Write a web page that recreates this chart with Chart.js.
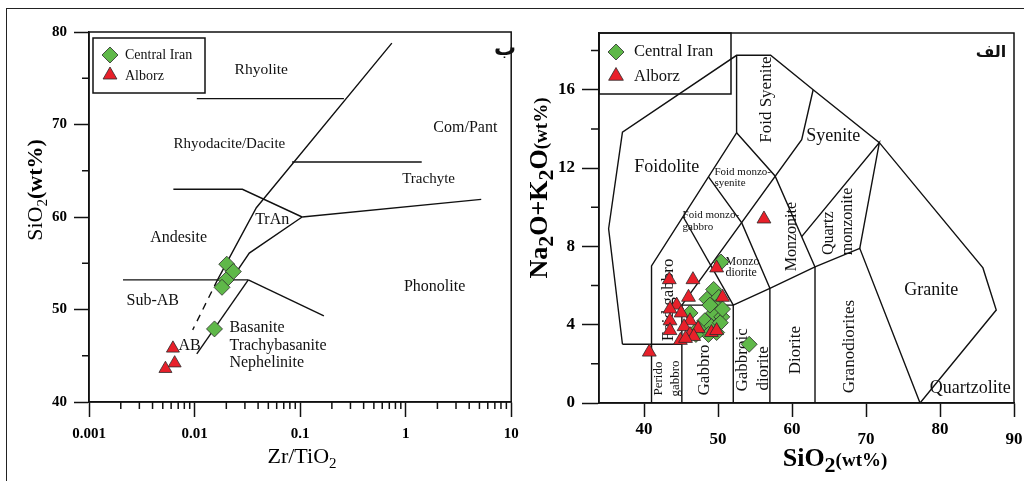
<!DOCTYPE html>
<html><head><meta charset="utf-8">
<script src="https://cdn.jsdelivr.net/npm/chart.js@4"></script>
<style>
html,body{margin:0;padding:0;background:#fff;}
body{width:1024px;height:481px;overflow:hidden;position:relative;}
.wrap{position:absolute;top:0;}
#fTop{position:absolute;left:7px;top:8px;width:1017px;height:0;border-top:1.5px solid #222;}
#fLeft{position:absolute;left:6px;top:8px;width:0;height:473px;border-left:1.5px solid #222;}
</style></head>
<body>
<div class="wrap" style="left:0;width:520px;height:481px"><canvas id="left" width="520" height="481"></canvas></div>
<div class="wrap" style="left:520px;width:504px;height:481px"><canvas id="right" width="504" height="481"></canvas></div>
<div id="fTop"></div><div id="fLeft"></div>
<script>
// ================= LEFT PANEL: Zr/TiO2 vs SiO2 =================
const zrMajorTicks = [0.001, 0.01, 0.1, 1, 10];
const zrTickLabels = ['0.001', '0.01', '0.1', '1', '10'];
const zrMinorTicks = [0.002,0.003,0.004,0.005,0.006,0.007,0.008,0.009,
                      0.02,0.03,0.04,0.05,0.06,0.07,0.08,0.09,
                      0.2,0.3,0.4,0.5,0.6,0.7,0.8,0.9,
                      2,3,4,5,6,7,8,9];
const siMajorTicks = [40, 50, 60, 70, 80];
const siTickLabels = ['40', '50', '60', '70', '80'];
const siMinorTicks = [45, 55, 65, 75];

// samples
const ciZr = [0.0202, 0.0233, 0.0199, 0.0182, 0.01545];
const ciSi = [54.9, 54.1, 53.2, 52.4, 47.9];
const alZr = [0.00624, 0.00648, 0.0053];
const alSi = [45.8, 44.2, 43.6];

// field boundaries [Zr/TiO2, SiO2]
const wfMain      = [[0.74,78.8],[0.0385,61.0],[0.0165,53.2]];
const wfDash      = [[0.0165,53.2],[0.0096,47.8]];
const wfRhyolite  = [[0.0105,72.8],[0.26,72.8]];
const wfTrachyte  = [[0.084,65.95],[1.42,65.95]];
const wfAndesite  = [[0.0063,63.0],[0.0284,63.0],[0.1045,60.0]];
const wfPhonolite = [[0.1045,60.0],[5.2,61.9]];
const wfTrAn      = [[0.1045,60.0],[0.033,56.1],[0.0222,53.2]];
const wfSubAB     = [[0.0021,53.2],[0.0323,53.2]];
const wfBasanite  = [[0.0323,53.2],[0.168,49.3]];
const wfAB        = [[0.0323,53.2],[0.0105,45.2]];

// field names
const wfNames  = ['Rhyolite','Rhyodacite/Dacite','Com/Pant','Trachyte','TrAn','Andesite','Sub-AB','Phonolite','AB','Basanite','Trachybasanite','Nephelinite'];
const wfNameX  = [0.0429, 0.0214, 3.68, 1.65, 0.0544, 0.00706, 0.00402, 1.88, 0.00897, 0.0214, 0.0214, 0.0214];
const wfNameY  = [75.9, 67.9, 69.6, 64.1, 59.7, 57.8, 50.9, 52.5, 46.05, 48.0, 46.05, 44.2];
const wfNameAlign = ['center','center','center','center','center','center','center','center','center','left','left','left'];

// ================= RIGHT PANEL: TAS =================
const tasXTicks = [40, 50, 60, 70, 80, 90];
const tasXLabels = ['40', '50', '60', '70', '80', '90'];
const tasYTicks = [0, 4, 8, 12, 16];
const tasYLabels = ['0', '4', '8', '12', '16'];
const tasYMinor = [2, 6, 10, 14, 18];

const ciSiO2 = [50.4,49.4,48.5,50.1,49.8,46.2,48.2,49.4,50.5,49.1,50.3,48.7,47.3,49.8,47.0,50.6,54.2,48.9];
const ciAlk  = [7.2, 5.8, 5.3, 5.4, 4.9, 4.6, 4.2, 4.6, 4.4, 3.9, 4.1, 3.5, 3.8, 3.6, 3.5, 4.8, 3.0, 5.0];
const alSiO2 = [40.7,43.4,46.6,49.8,50.6,46.0,44.4,45.0,43.5,43.5,46.2,47.3,43.5,45.4,46.2,44.9,49.1,49.8,46.7,56.2,45.6];
const alAlk  = [2.6, 6.3, 6.3, 6.9, 5.4, 5.4, 5.0, 4.6, 4.8, 4.2, 4.2, 3.8, 3.7, 3.9, 3.5, 3.2, 3.6, 3.7, 3.4, 9.4, 3.3];

const tasOuter      = [[37.07,3.0],[35.2,8.9],[37.07,13.84],[52.5,17.76],[57.1,17.76],[62.85,16.0],[71.8,13.3],[85.8,6.9],[87.6,4.75],[77.3,0]];
const tasFoidBase   = [[37.07,3.0],[45.1,3.0]];
const tasFoidInner  = [[41.0,0],[41.0,7.0],[52.5,13.8],[52.5,17.76]];
const tasGabbro     = [[45.1,0],[45.1,5.0],[52.05,5.0],[52.05,0]];
const tasMonzo      = [[45.1,5.0],[61.3,13.45],[62.85,16.0]];
const tasFMGabbro   = [[45.3,9.5],[52.05,5.0]];
const tasFMSyenite  = [[48.7,11.55],[53.2,9.2],[57.0,5.86]];
const tasMonzonite  = [[52.5,13.8],[57.7,11.6],[63.1,6.95]];
const tasDioriteTop = [[52.05,5.0],[57.0,5.86],[63.1,6.95],[69.15,7.9],[77.3,0]];
const tasV57        = [[57.0,5.86],[57.0,0]];
const tasV63        = [[63.1,6.95],[63.1,0]];
const tasQzMonz     = [[61.3,8.5],[71.8,13.3],[69.15,7.9]];

const tasNames = ['Foidolite','Foid Syenite','Syenite','Foid monzo-','syenite','Foid monzo-','gabbro','Monzonite','Quartz','monzonite','Monzo','diorite','Foid gabbro','Perido','gabbro','Gabbro','Gabbroic','diorite','Diorite','Granodiorites','Granite','Quartzolite'];
const tasNameX = [43.06, 56.55, 65.55, 49.5, 49.5, 45.2, 45.2, 59.9, 64.9, 67.6, 51.0, 51.0, 43.3, 41.9, 44.2, 48.2, 53.3, 56.2, 60.5, 67.7, 78.8, 84.1];
const tasNameY = [12.05, 15.5, 13.6, 11.8, 11.25, 9.6, 9.0, 8.5, 8.67, 9.27, 7.19, 6.63, 5.27, 1.25, 1.25, 1.69, 2.2, 1.77, 2.7, 2.88, 5.78, 0.75];
const tasNameSize = [18,17,18,11,11,11,11,16,16,16,12,12,17,13,13,17,17,17,17,17,18,18];
const tasNameRot  = [0,-90,0,0,0,0,0,-90,-90,-90,0,0,-90,-90,-90,-90,-90,-90,-90,-90,0,0];
const tasNameAlign = ['center','center','center','left','left','left','left','center','center','center','left','left','center','center','center','center','center','center','center','center','center','center'];

// ================= helpers =================
const SERIF = "'Liberation Serif', 'Times New Roman', serif";
const GREEN = '#5fb849', RED = '#e8202a', MK = '#2b2b2b';
Chart.defaults.font.family = SERIF;
Chart.defaults.color = '#000';

const xy = arr => arr.map(p => ({x: p[0], y: p[1]}));
const pairs = (xs, ys) => xs.map((x, i) => ({x, y: ys[i]}));
const lineDs = (arr, dash) => ({data: xy(arr), showLine: true, borderColor: '#111', borderWidth: 1.4,
  pointRadius: 0, pointHoverRadius: 0, fill: false, tension: 0, borderDash: dash || [], order: 10});

function drawMarker(ctx, style, x, y, r, fill) {
  ctx.save();
  ctx.beginPath();
  if (style === 'diamond') {
    ctx.moveTo(x, y - r); ctx.lineTo(x + r, y); ctx.lineTo(x, y + r); ctx.lineTo(x - r, y);
  } else {
    const a = Math.PI * 2 / 3;
    for (let k = 0; k < 3; k++) {
      const px = x + Math.sin(a * k) * r, py = y - Math.cos(a * k) * r;
      k ? ctx.lineTo(px, py) : ctx.moveTo(px, py);
    }
  }
  ctx.closePath();
  ctx.fillStyle = fill; ctx.fill();
  ctx.lineWidth = 0.8; ctx.strokeStyle = MK; ctx.stroke();
  ctx.restore();
}

function drawRich(ctx, parts, x, y, rot) {
  ctx.save();
  ctx.translate(x, y); ctx.rotate(rot);
  ctx.textBaseline = 'alphabetic'; ctx.textAlign = 'left'; ctx.fillStyle = '#000';
  const w = parts.map(p => { ctx.font = p.font; return ctx.measureText(p.text).width; });
  let cx = -w.reduce((a, b) => a + b, 0) / 2;
  parts.forEach((p, i) => { ctx.font = p.font; ctx.fillText(p.text, cx, p.dy || 0); cx += w[i]; });
  ctx.restore();
}

function makePanelPlugin(cfg) {
  return {
    id: 'panel_' + cfg.id,
    beforeDatasetsDraw(chart) {
      const ctx = chart.ctx, xs = chart.scales.x, ys = chart.scales.y;
      ctx.save();
      ctx.fillStyle = '#111';
      cfg.names.forEach((t, i) => {
        const px = xs.getPixelForValue(cfg.nx[i]), py = ys.getPixelForValue(cfg.ny[i]);
        ctx.save();
        ctx.translate(px, py);
        ctx.rotate((cfg.rot ? cfg.rot[i] : 0) * Math.PI / 180);
        ctx.font = (cfg.size ? cfg.size[i] : cfg.defSize) + 'px ' + SERIF;
        ctx.textAlign = cfg.align[i]; ctx.textBaseline = 'middle';
        ctx.fillText(t, 0, 0);
        ctx.restore();
      });
      ctx.restore();
    },
    afterDraw(chart) {
      const ctx = chart.ctx, a = chart.chartArea, xs = chart.scales.x, ys = chart.scales.y;
      ctx.save();
      // frame
      ctx.strokeStyle = '#111'; ctx.lineWidth = 1.5;
      ctx.strokeRect(a.left, a.top, a.right - a.left, a.bottom - a.top);
      // minor ticks
      ctx.beginPath();
      (cfg.xMinor || []).forEach(v => { const p = xs.getPixelForValue(v); ctx.moveTo(p, a.bottom); ctx.lineTo(p, a.bottom + cfg.minorLen); });
      (cfg.yMinor || []).forEach(v => { const p = ys.getPixelForValue(v); ctx.moveTo(a.left - cfg.minorLen, p); ctx.lineTo(a.left, p); });
      ctx.stroke();
      // legend box
      const L = cfg.legend;
      ctx.lineWidth = 1.5;
      ctx.strokeRect(a.left + L.x, a.top + L.y, L.w, L.h);
      drawMarker(ctx, 'diamond', a.left + L.mx, a.top + L.y1, L.dr, GREEN);
      drawMarker(ctx, 'triangle', a.left + L.mx, a.top + L.y2 + 1, L.tr, RED);
      ctx.fillStyle = '#111'; ctx.font = L.fs + 'px ' + SERIF; ctx.textBaseline = 'middle'; ctx.textAlign = 'left';
      ctx.fillText('Central Iran', a.left + L.tx, a.top + L.y1);
      ctx.fillText('Alborz', a.left + L.tx, a.top + L.y2 + 2);
      // panel letter (Arabic)
      ctx.font = 'bold ' + cfg.letter.size + "px 'DejaVu Sans', sans-serif";
      ctx.textAlign = 'center';
      ctx.fillText(cfg.letter.text, a.left + cfg.letter.x, a.top + cfg.letter.y);
      ctx.restore();
      // axis titles
      cfg.titles.forEach(t => drawRich(ctx, t.parts, t.x, t.y, t.rot));
    }
  };
}

const baseOpts = {
  responsive: false, animation: false, events: [], devicePixelRatio: 1,
  plugins: {legend: {display: false}, tooltip: {enabled: false}}
};
const gridOpts = len => ({drawOnChartArea: false, drawTicks: true, tickLength: len, tickColor: '#111', tickWidth: 1.5, color: '#111'});
const borderOpts = {display: true, color: '#111', width: 1.5};

// ---------- left chart ----------
new Chart(document.getElementById('left'), {
  type: 'scatter',
  data: {datasets: [
    {data: pairs(alZr, alSi), pointStyle: 'triangle', pointRadius: 7.5, backgroundColor: RED, borderColor: MK, borderWidth: 0.8, order: 1},
    {data: pairs(ciZr, ciSi), pointStyle: 'rectRot', pointRadius: 8, backgroundColor: GREEN, borderColor: MK, borderWidth: 0.8, order: 2},
    lineDs(wfMain), lineDs(wfDash, [7, 6]), lineDs(wfRhyolite), lineDs(wfTrachyte), lineDs(wfAndesite),
    lineDs(wfPhonolite), lineDs(wfTrAn), lineDs(wfSubAB), lineDs(wfBasanite), lineDs(wfAB)
  ]},
  options: Object.assign({}, baseOpts, {
    layout: {padding: {left: 0, top: 32, right: 6, bottom: 0}},
    scales: {
      x: {type: 'logarithmic', min: 0.001, max: 10, position: 'bottom',
        afterBuildTicks: s => { s.ticks = zrMajorTicks.map(v => ({value: v, major: true})); },
        ticks: {callback: (v, i) => zrTickLabels[i], autoSkip: false, maxRotation: 0, padding: 8,
          font: {size: 15, weight: 'bold'}, color: '#000'},
        grid: gridOpts(15), border: borderOpts,
        afterFit: s => { s.height = 79; s.paddingLeft = 0; s.paddingRight = 0; }},
      y: {type: 'linear', min: 40, max: 80, position: 'left',
        afterBuildTicks: s => { s.ticks = siMajorTicks.map(v => ({value: v})); },
        ticks: {callback: (v, i) => siTickLabels[i], autoSkip: false, padding: 7,
          font: {size: 15, weight: 'bold'}, color: '#000'},
        grid: gridOpts(15), border: borderOpts,
        afterFit: s => { s.width = 89; s.paddingTop = 0; s.paddingBottom = 0; }}
    }
  }),
  plugins: [makePanelPlugin({
    id: 'L', names: wfNames, nx: wfNameX, ny: wfNameY, align: wfNameAlign, defSize: 16,
    size: [15.5,15,16,15,16,16,16,16,16,16,16,16],
    xMinor: zrMinorTicks, yMinor: siMinorTicks, minorLen: 7,
    legend: {x: 4, y: 6, w: 112, h: 55, mx: 21, y1: 23, y2: 42, dr: 8, tr: 8, tx: 36, fs: 14},
    letter: {text: 'ب', x: 416, y: 17, size: 22},
    titles: [
      {x: 42, y: 190, rot: -Math.PI / 2, parts: [
        {text: 'SiO', font: '22px ' + SERIF}, {text: '2', font: '15px ' + SERIF, dy: 5},
        {text: '(wt%)', font: 'bold 22px ' + SERIF}]},
      {x: 302, y: 463, rot: 0, parts: [
        {text: 'Zr/TiO', font: '22px ' + SERIF}, {text: '2', font: '15px ' + SERIF, dy: 5}]}
    ]
  })]
});

// ---------- right chart ----------
new Chart(document.getElementById('right'), {
  type: 'scatter',
  data: {datasets: [
    {data: pairs(alSiO2, alAlk), pointStyle: 'triangle', pointRadius: 8, backgroundColor: RED, borderColor: MK, borderWidth: 0.8, order: 1},
    {data: pairs(ciSiO2, ciAlk), pointStyle: 'rectRot', pointRadius: 8, backgroundColor: GREEN, borderColor: MK, borderWidth: 0.8, order: 2},
    lineDs(tasOuter), lineDs(tasFoidBase), lineDs(tasFoidInner), lineDs(tasGabbro), lineDs(tasMonzo),
    lineDs(tasFMGabbro), lineDs(tasFMSyenite), lineDs(tasMonzonite), lineDs(tasDioriteTop),
    lineDs(tasV57), lineDs(tasV63), lineDs(tasQzMonz)
  ]},
  options: Object.assign({}, baseOpts, {
    layout: {padding: {left: 0, top: 33, right: 10, bottom: 0}},
    scales: {
      x: {type: 'linear', min: 33.9, max: 90, position: 'bottom',
        afterBuildTicks: s => { s.ticks = tasXTicks.map(v => ({value: v})); },
        ticks: {callback: (v, i) => (i % 2 ? ['', tasXLabels[i]] : tasXLabels[i]), autoSkip: false, maxRotation: 0, padding: 8,
          font: {size: 17, weight: 'bold', lineHeight: 10 / 17}, color: '#000'},
        grid: gridOpts(14), border: borderOpts,
        afterFit: s => { s.height = 78; s.paddingLeft = 0; s.paddingRight = 0; }},
      y: {type: 'linear', min: 0, max: 18.9, position: 'left',
        afterBuildTicks: s => { s.ticks = tasYTicks.map(v => ({value: v})); },
        ticks: {callback: (v, i) => tasYLabels[i], autoSkip: false, padding: 7,
          font: {size: 17, weight: 'bold'}, color: '#000'},
        grid: gridOpts(17), border: borderOpts,
        afterFit: s => { s.width = 79; s.paddingTop = 0; s.paddingBottom = 0; }}
    }
  }),
  plugins: [makePanelPlugin({
    id: 'R', names: tasNames, nx: tasNameX, ny: tasNameY, align: tasNameAlign,
    size: tasNameSize, rot: tasNameRot,
    yMinor: tasYMinor, minorLen: 8,
    legend: {x: 0, y: 0, w: 132, h: 61, mx: 17, y1: 19, y2: 42, dr: 8, tr: 8.5, tx: 35, fs: 16.5},
    letter: {text: 'الف', x: 392, y: 20, size: 16},
    titles: [
      {x: 27, y: 188, rot: -Math.PI / 2, parts: [
        {text: 'Na', font: 'bold 26px ' + SERIF}, {text: '2', font: 'bold 22px ' + SERIF, dy: 6},
        {text: 'O+K', font: 'bold 26px ' + SERIF}, {text: '2', font: 'bold 22px ' + SERIF, dy: 6},
        {text: 'O', font: 'bold 26px ' + SERIF}, {text: '(wt%)', font: 'bold 19px ' + SERIF}]},
      {x: 315, y: 466, rot: 0, parts: [
        {text: 'SiO', font: 'bold 26px ' + SERIF}, {text: '2', font: 'bold 22px ' + SERIF, dy: 6},
        {text: '(wt%)', font: 'bold 19px ' + SERIF}]}
    ]
  })]
});
</script>
</body></html>
